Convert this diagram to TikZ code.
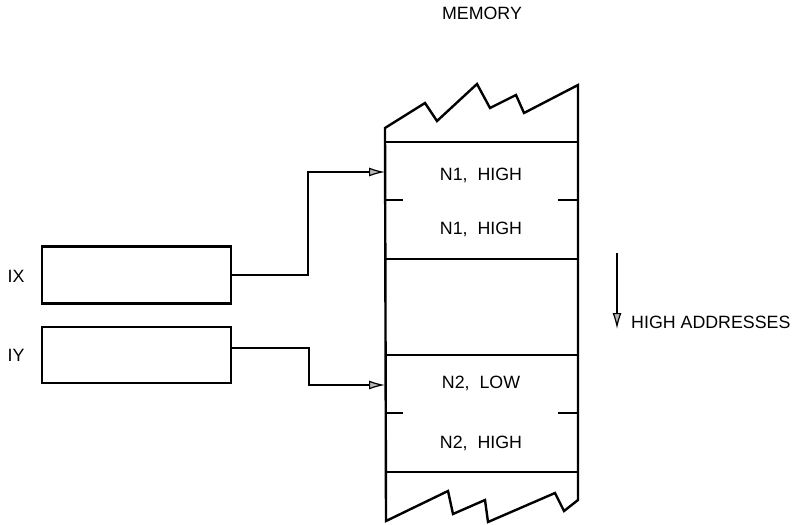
\documentclass[tikz,border=0pt]{standalone}
\usepackage{fontspec}
\setmainfont{Liberation Sans}
\usetikzlibrary{arrows.meta}
\begin{document}
\begin{tikzpicture}[x=1pt,y=-1pt,
  ln/.style={line width=2.4pt, line join=miter},
  reg/.style={draw, line width=2.4pt, minimum width=189pt, minimum height=57pt, inner sep=0pt},
  lbl/.style={font=\fontsize{17.8}{20}\selectfont, inner sep=0pt},
  ptr/.style={line width=2.2pt, -{Latex[length=16pt,width=9pt,fill=gray!55,line width=1.2pt]}}
]
\useasboundingbox (0,0) rectangle (794,524);
\node[lbl] (mem) at (482,13) {MEMORY};
\node[reg] (ix) at (136.5,275) {};
\node[reg, minimum height=56pt] (iy) at (136.5,355) {};
\node[lbl] (ixl) at (16,276) {IX};
\node[lbl] (iyl) at (16,355) {IY};
% memory column with torn ends
\draw[ln] (386,521) -- (385,128) -- (425,103) -- (437,121) -- (477,84) -- (490,108) -- (516,95) -- (524,113) -- (578,85) -- (578,500) -- (564,511) -- (555,493) -- (488,522) -- (485,500) -- (453,514) -- (448,491) -- cycle;
\foreach \yy in {142,259,355,472} \draw[ln] (385,\yy) -- (578,\yy);
\foreach \yy in {200,413} {\draw[ln] (385,\yy) -- (403,\yy); \draw[ln] (558,\yy) -- (578,\yy);}
\node[lbl] (c1) at (481,175) {N1,\ \ HIGH};
\node[lbl] (c2) at (481,229) {N1,\ \ HIGH};
\node[lbl] (c3) at (481,383) {N2,\ \ LOW};
\node[lbl] (c4) at (481,443) {N2,\ \ HIGH};
\coordinate (t1) at (385,172);
\coordinate (t2) at (385,385);
\draw[ptr] (ix.east) -- ++(76,0) |- (t1);
\draw[ptr] ([yshift=7pt]iy.east) -- ++(77,0) |- (t2);
\node[lbl, anchor=west] (ha) at (631,322) {HIGH ADDRESSES};
\coordinate (hatop) at (617,253);
\coordinate (habot) at (617,329);
\draw[ptr] (hatop) -- (habot);
\end{tikzpicture}
\end{document}
